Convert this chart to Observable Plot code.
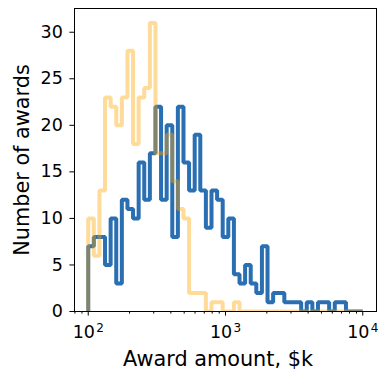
<!DOCTYPE html>
<html><head><meta charset="utf-8">
<script src="https://cdn.jsdelivr.net/npm/d3@7"></script>
<script src="https://cdn.jsdelivr.net/npm/@observablehq/plot@0.6"></script>
<style>body{margin:0;background:#fff}</style>
</head><body><div id="chart"></div>
<script>
// Histogram definition (log-spaced bins from 100 to 10000, 49 bins)
const binLow = 100, binHigh = 10000, binCount = 49;
// Counts per bin
const blueCounts = [7,8,8,5,10,3,12,11,10,16,12,17,22,12,20,8,22,16,13,19,13,9,13,12,8,10,4,3,5,3,2,7,1,2,2,1,1,1,0,1,0,1,1,0,1,1,0,0,0];
const orangeCounts = [10,6,13,23,22,20,23,28,18,23,24,31,17,17,19,14,11,10,2,2,2,0,1,1,0,0,1,0,0,0,0,0,0,0,0,0,0,0,0,0,0,0,0,0,0,0,0,0,0];
const yTicks = [0,5,10,15,20,25,30];
const xMajorTicks = [100,1000,10000];
const xTickBase = "10";
const xTickExponents = ["2","3","4"];
const xMinorTicks = [80,90,200,300,400,500,600,700,800,900,2000,3000,4000,5000,6000,7000,8000,9000];
const xLabel = "Award amount, $k";
const yLabel = "Number of awards";

const edges = d3.range(binCount + 1).map(i => binLow * Math.pow(binHigh / binLow, i / binCount));
function stepPoints(counts) {
  const pts = [{x: edges[0], y: 0}];
  counts.forEach((c, i) => { pts.push({x: edges[i], y: c}, {x: edges[i + 1], y: c}); });
  pts.push({x: edges[binCount], y: 0});
  return pts;
}

const chart = Plot.plot({
  width: 378, height: 370,
  marginLeft: 74, marginRight: 2, marginTop: 8, marginBottom: 59,
  style: {fontFamily: "DejaVu Sans", fontSize: "17.5px", background: "white", color: "black"},
  x: {type: "log", domain: [Math.pow(10, 1.9), Math.pow(10, 4.1)]},
  y: {domain: [0, 32.55]},
  marks: [
    Plot.line(stepPoints(blueCounts), {x: "x", y: "y", stroke: "#2a6fb2", strokeWidth: 4, strokeLinejoin: "miter", strokeLinecap: "butt", clip: true}),
    Plot.line(stepPoints(orangeCounts), {x: "x", y: "y", stroke: "orange", strokeOpacity: 0.4, strokeWidth: 4, strokeLinejoin: "miter", strokeLinecap: "butt", clip: true}),
    Plot.axisX(xMajorTicks, {tickSize: 4.6, tickFormat: () => "", label: null}),
    Plot.axisX(xMinorTicks, {tickSize: 2.6, tickFormat: () => "", label: null}),
    Plot.text(xMajorTicks, {x: d => d, text: () => xTickBase, frameAnchor: "bottom", dy: 26, dx: -4.4, lineAnchor: "bottom", textAnchor: "middle", fontSize: 17.5}),
    Plot.text(xMajorTicks, {x: d => d, text: (d, i) => xTickExponents[i], frameAnchor: "bottom", dy: 20, dx: 8, lineAnchor: "bottom", textAnchor: "start", fontSize: 12}),
    Plot.axisY(yTicks, {tickSize: 4.6, tickPadding: 7, label: null, fontSize: 17.5}),
    Plot.frame({stroke: "black", strokeWidth: 1}),
    Plot.text([xLabel], {text: d => d, frameAnchor: "bottom", dx: -7.5, dy: 54, lineAnchor: "bottom", textAnchor: "middle", fontSize: 20.8}),
    Plot.text([yLabel], {text: d => d, frameAnchor: "left", dx: -46, rotate: -90, lineAnchor: "bottom", textAnchor: "middle", fontSize: 20.8})
  ]
});
document.getElementById("chart").appendChild(chart);
</script>
</body></html>
